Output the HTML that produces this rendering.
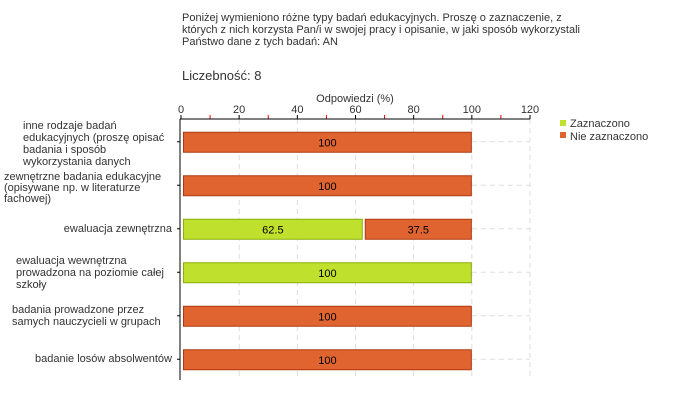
<!DOCTYPE html>
<html><head><meta charset="utf-8"><style>
body{margin:0;background:#fff;width:680px;height:400px;overflow:hidden;font-family:"Liberation Sans","DejaVu Sans",sans-serif}
svg text{font-family:"Liberation Sans","DejaVu Sans",sans-serif;fill:#333}
</style></head><body>
<svg id="c" width="680" height="400">
<g font-size="11">
<text x="182" y="21">Poniżej wymieniono różne typy badań edukacyjnych. Proszę o zaznaczenie, z</text>
<text x="182" y="33">których z nich korzysta Pan/i w swojej pracy i opisanie, w jaki sposób wykorzystali</text>
<text x="182" y="45">Państwo dane z tych badań:  AN</text>
</g>
<text x="182" y="80" font-size="13">Liczebność: 8</text>
<text x="355" y="102" font-size="11" text-anchor="middle">Odpowiedzi (%)</text>
<g id="grid"></g><g id="bars"></g><g id="axis"></g>
<g font-size="11">
<text x="23" y="129">inne rodzaje badań</text>
<text x="23" y="141">edukacyjnych (proszę opisać</text>
<text x="23" y="153">badania i sposób</text>
<text x="23" y="165">wykorzystania danych</text>
<text x="4" y="180">zewnętrzne badania edukacyjne</text>
<text x="4" y="191">(opisywane np. w literaturze</text>
<text x="4" y="202">fachowej)</text>
<text x="172" y="232" text-anchor="end">ewaluacja zewnętrzna</text>
<text x="16" y="264">ewaluacja wewnętrzna</text>
<text x="16" y="276">prowadzona na poziomie całej</text>
<text x="16" y="288">szkoły</text>
<text x="12" y="313">badania prowadzone przez</text>
<text x="12" y="325">samych nauczycieli w grupach</text>
<text x="172" y="362" text-anchor="end">badanie losów absolwentów</text>
</g>
<g font-size="11">
<rect x="560" y="120" width="6" height="6" fill="#bfe02c"/>
<text x="570" y="127">Zaznaczono</text>
<rect x="560" y="132" width="6" height="6" fill="#e06430"/>
<text x="570" y="140">Nie zaznaczono</text>
</g>
</svg>
<script>
const categories=["inne","zewnetrzne","ewaluacja-zewnetrzna","ewaluacja-wewnetrzna","nauczyciele","absolwenci"];
const zaznaczono=[0,0,62.5,100,0,0];
const nieZaznaczono=[100,100,37.5,0,100,100];
const ticks=[0,20,40,60,80,100,120];
const NS="http://www.w3.org/2000/svg";
const x0=181,scale=(530-181)/120,yTop=119,yBot=380,rowTop=120,rowH=43.5,barH=20;
const xs=v=>x0+v*scale;
const yc=i=>rowTop+rowH*(i+0.5);
function mk(tag,attrs,parent){const e=document.createElementNS(NS,tag);for(const k in attrs)e.setAttribute(k,attrs[k]);document.getElementById(parent).appendChild(e);return e;}
ticks.forEach((t,i)=>{
 if(t>0){const g=mk('line',{x1:xs(t),x2:xs(t),y1:yTop,y2:yBot,stroke:'#ddd','stroke-dasharray':'5,4'},'grid');
 
 }
 const tk=mk('line',{x1:xs(t),x2:xs(t),y1:yTop-4,y2:yTop,stroke:'#000'},'axis');
 
 
 const tl=mk('text',{x:xs(t),y:yTop-6,'font-size':11,'text-anchor':'middle'},'axis');tl.textContent=t;
 
 
 if(i<ticks.length-1){const m=mk('line',{x1:xs(t+10),x2:xs(t+10),y1:yTop-4,y2:yTop,stroke:'#e00'},'axis');
 
 }
});
const ax=mk('line',{x1:x0-1,x2:xs(120),y1:yTop,y2:yTop,stroke:'#000'},'axis');


const ay=mk('line',{x1:x0-1,x2:x0-1,y1:yTop,y2:yBot,stroke:'#000'},'axis');


categories.forEach((c,i)=>{
 const y=yc(i);
 const yt=mk('line',{x1:x0-4,x2:x0-1,y1:y,y2:y,stroke:'#000'},'axis');
 
 
 const total=zaznaczono[i]+nieZaznaczono[i];
 const hl=mk('line',{x1:xs(total),x2:xs(120),y1:y,y2:y,stroke:'#ddd','stroke-dasharray':'5,4'},'grid');
 
 
 let start=0;
 [[zaznaczono[i],'#bfe02c','#8aae10','zaznaczono'],[nieZaznaczono[i],'#e06430','#b03a10','nie-zaznaczono']].forEach(([v,f,s,n])=>{
  if(v<=0)return;
  const xa=xs(start)+2,xb=xs(start+v);
  const r=mk('rect',{x:xa+0.5,y:y-barH/2+0.5,width:xb-xa-1,height:barH,fill:f,stroke:s},'bars');
  
  
  const t=mk('text',{x:(xa+xb)/2,y:y+4.5,'font-size':11,'text-anchor':'middle'},'bars');t.textContent=v;t.style.fill='#000';
  
  
  start+=v;
 });
});
</script>
</body></html>
